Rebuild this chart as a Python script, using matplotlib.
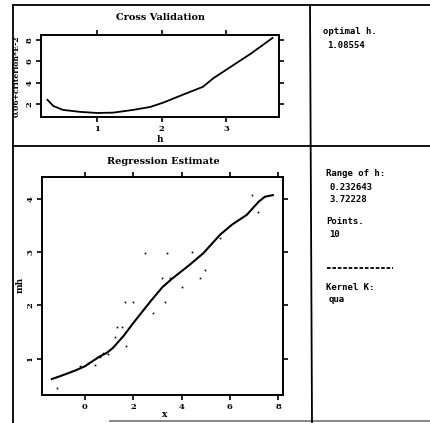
import matplotlib
matplotlib.use("Agg")
import matplotlib.pyplot as plt
from matplotlib.lines import Line2D

# cross validation curve
cv_h = [0.23, 0.32, 0.47, 0.74, 1.0, 1.25, 1.56, 1.82, 2.02, 2.33, 2.64, 2.8, 3.0, 3.37, 3.72]
cv_val = [2.38, 1.8, 1.43, 1.24, 1.14, 1.17, 1.43, 1.7, 2.1, 2.86, 3.6, 4.4, 5.2, 6.67, 8.2]

# regression estimate curve
reg_x = [-1.37, -1.05, -0.75, -0.4, 0.0, 0.3, 0.6, 0.9, 1.15, 1.6, 2.0, 2.35, 2.7, 3.2, 3.6,
         4.3, 4.9, 5.2, 5.6, 6.1, 6.7, 7.2, 7.45, 7.78]
reg_y = [0.62, 0.67, 0.72, 0.78, 0.86, 0.95, 1.04, 1.11, 1.2, 1.43, 1.67, 1.87, 2.07, 2.34, 2.5,
         2.75, 2.98, 3.13, 3.33, 3.52, 3.7, 3.95, 4.04, 4.07]

# observed points
pts_x = [-1.16, -0.21, 0.41, 0.75, 0.95, 1.24, 1.33, 1.53, 1.70, 1.66, 1.99, 2.82, 3.32,
         4.02, 3.19, 3.52, 4.77, 4.97, 2.49, 3.40, 4.44, 5.60, 7.17, 6.92, 0.62, 0.12]
pts_y = [0.46, 0.87, 0.89, 1.11, 1.08, 1.41, 1.60, 1.60, 1.23, 2.07, 2.07, 1.86, 2.07,
         2.35, 2.52, 2.52, 2.52, 2.67, 2.99, 2.99, 3.01, 3.27, 3.76, 4.08, 1.04, 0.92]

W, H = 430, 423
fig = plt.figure(figsize=(W / 100, H / 100), dpi=100)

def px_axes(l, t, r, b):
    return fig.add_axes([l / W, 1 - b / H, (r - l) / W, (b - t) / H])

def style(ax):
    for s in ax.spines.values():
        s.set_linewidth(1.4)
    ax.tick_params(direction="out", length=3.5, width=1.2, top=True, right=True,
                   labeltop=False, labelright=False, labelsize=6, pad=2)
    for lab in ax.get_xticklabels() + ax.get_yticklabels():
        lab.set_fontweight("bold")
        lab.set_family("DejaVu Serif")
    for lab in ax.get_yticklabels():
        lab.set_rotation(90)
        lab.set_va("center")

# frame lines
def fline(x0, y0, x1, y1, **kw):
    fig.add_artist(Line2D([x0 / W, x1 / W], [1 - y0 / H, 1 - y1 / H], color="black", lw=1.3, **kw))

fline(13, 5, 13, 423)
fline(13, 5, 430, 5)
fline(310, 5, 312, 423)
fline(13, 146, 430, 146)
fline(110, 421, 430, 421, alpha=0.5)

# top: cross validation
ax1 = px_axes(41, 35, 279, 117)
ax1.plot(cv_h, cv_val, color="black", lw=1.3)
ax1.set_xlim(0.13, 3.82)
ax1.set_ylim(0.76, 8.48)
ax1.set_xticks([1, 2, 3])
ax1.set_yticks([2, 4, 6, 8])
style(ax1)
fig.text(160 / W, 1 - 18 / H, "Cross Validation", ha="center", va="center",
         family="DejaVu Serif", fontsize=7, fontweight="bold")
fig.text(160 / W, 1 - 139 / H, "h", ha="center", va="center",
         family="DejaVu Serif", fontsize=6.5, fontweight="bold")
fig.text(17 / W, 1 - 76 / H, "0.06+criterion*E-2", ha="center", va="center", rotation=90,
         family="DejaVu Serif", fontsize=5.5, fontweight="bold")

# bottom: regression estimate
ax2 = px_axes(42, 177, 283, 395)
ax2.plot(pts_x, pts_y, "s", color="black", markersize=1.2, markeredgewidth=0)
ax2.plot(reg_x, reg_y, color="black", lw=1.5)
ax2.set_xlim(-1.78, 8.2)
ax2.set_ylim(0.32, 4.41)
ax2.set_xticks([0, 2, 4, 6, 8])
ax2.set_yticks([1, 2, 3, 4])
style(ax2)
fig.text(163 / W, 1 - 161 / H, "Regression Estimate", ha="center", va="center",
         family="DejaVu Serif", fontsize=7, fontweight="bold")
fig.text(165 / W, 1 - 414 / H, "x", ha="center", va="center",
         family="DejaVu Serif", fontsize=6.5, fontweight="bold")
fig.text(20 / W, 1 - 285 / H, "mh", ha="center", va="center", rotation=90,
         family="DejaVu Serif", fontsize=6.5, fontweight="bold")

# right side text
mono = dict(family="DejaVu Sans Mono", fontsize=6.5, fontweight="bold", va="center", ha="left")
fig.text(323 / W, 1 - 32 / H, "optimal h.", **mono)
fig.text(327 / W, 1 - 45 / H, "1.08554", **mono)
fig.text(326 / W, 1 - 174 / H, "Range of h:", **mono)
fig.text(329 / W, 1 - 187 / H, "0.232643", **mono)
fig.text(329 / W, 1 - 199 / H, "3.72228", **mono)
fig.text(326 / W, 1 - 221 / H, "Points.", **mono)
fig.text(329 / W, 1 - 234 / H, "10", **mono)
fline(327, 268, 393, 268, ls=(0, (2, 1)))
fig.text(326 / W, 1 - 287 / H, "Kernel K:", **mono)
fig.text(329 / W, 1 - 299 / H, "qua", **mono)

fig.savefig("out.png", dpi=100)
